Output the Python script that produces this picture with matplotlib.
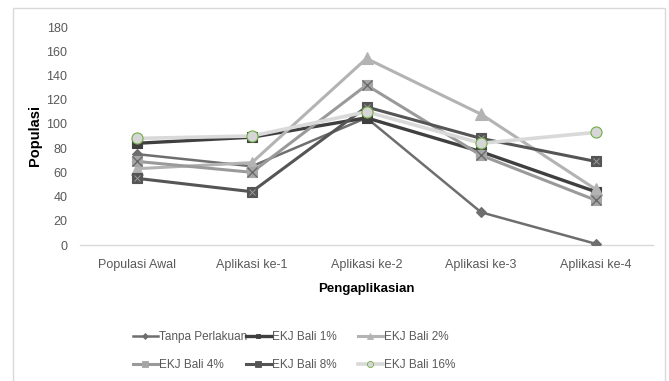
import matplotlib
matplotlib.use("Agg")
import matplotlib.pyplot as plt
from matplotlib.patches import Rectangle
from matplotlib.lines import Line2D

categories = ["Populasi Awal", "Aplikasi ke-1", "Aplikasi ke-2", "Aplikasi ke-3", "Aplikasi ke-4"]
series_names = ["Tanpa Perlakuan", "EKJ Bali 1%", "EKJ Bali 2%", "EKJ Bali 4%", "EKJ Bali 8%", "EKJ Bali 16%"]
tanpa = [75, 65, 105, 27, 1]
ekj1 = [84, 89, 105, 77, 44]
ekj2 = [63, 68, 154, 108, 46]
ekj4 = [69, 60, 132, 74, 37]
ekj8 = [55, 44, 114, 88, 69]
ekj16 = [88, 90, 110, 84, 93]
yticks = [0, 20, 40, 60, 80, 100, 120, 140, 160, 180]

W, H = 669, 381
fig = plt.figure(figsize=(W / 100, H / 100), dpi=100)
plt.rcParams["font.family"] = ["Liberation Sans", "DejaVu Sans"]

# outer chart-area frame
fig.patches.append(Rectangle((12.5 / W, -0.01), (665 - 12.5) / W, 1 - 8 / H + 0.01,
                             transform=fig.transFigure, fill=False,
                             edgecolor="#d9d9d9", linewidth=1.0))

ax = fig.add_axes([80 / W, 1 - 245 / H, (653 - 80) / W, (245 - 27) / H])
x = list(range(len(categories)))

styles = [
    dict(data=tanpa, color="#6e6e6e", lw=1.8, marker="D", ms=5.5, mfc="#6e6e6e", mec="#6e6e6e"),
    dict(data=ekj1, color="#3f3f3f", lw=2.4, marker="s", ms=6.5, mfc="#3f3f3f", mec="#3f3f3f"),
    dict(data=ekj2, color="#b3b3b3", lw=2.2, marker="^", ms=8, mfc="#b3b3b3", mec="#b3b3b3"),
    dict(data=ekj4, color="#9a9a9a", lw=2.2, marker="s", ms=7.5, mfc="#a6a6a6", mec="#a6a6a6"),
    dict(data=ekj8, color="#555555", lw=2.2, marker="s", ms=7.5, mfc="#555555", mec="#555555"),
    dict(data=ekj16, color="#d9d9d9", lw=2.6, marker="o", ms=8, mfc="#d6d6d6", mec="#70ad47"),
]

handles = []
for name, st in zip(series_names, styles):
    ax.plot(x, st["data"], color=st["color"], lw=st["lw"], marker=st["marker"],
            ms=st["ms"], mfc=st["mfc"], mec=st["mec"], mew=0.8, solid_joinstyle="miter",
            zorder=3)
    if name == "EKJ Bali 4%":
        ax.plot(x, st["data"], ls="none", marker="x", ms=7, mec="#6a6a6a", mew=1.0, zorder=3)
    if name == "EKJ Bali 8%":
        ax.plot(x, st["data"], ls="none", marker="x", ms=5, mec="#9a9a9a", mew=0.7, zorder=3)
    handles.append(Line2D([], [], color=st["color"], lw=st["lw"], marker=st["marker"],
                          ms=st["ms"] * 0.55, mfc=st["mfc"], mec=st["mec"], mew=0.6,
                          label=name))

ax.set_xlim(-0.5, len(categories) - 0.5)
ax.set_ylim(0, 180)
ax.set_yticks(yticks)
ax.set_xticks(x)
ax.set_xticklabels(categories)
for s in ["top", "right", "left"]:
    ax.spines[s].set_visible(False)
ax.spines["bottom"].set_color("#d9d9d9")
ax.spines["bottom"].set_linewidth(1.0)
ax.tick_params(axis="both", length=0, colors="#595959", labelsize=9)
ax.tick_params(axis="x", pad=10)
ax.tick_params(axis="y", pad=9)

ax.set_ylabel("Populasi", fontsize=10.5, fontweight="bold", color="black", labelpad=3)
ax.set_xlabel("Pengaplikasian", fontsize=9.5, fontweight="bold", color="black", labelpad=9)

# legend arranged in three fixed columns
col_x = [133, 246, 358]
pairs = [(0, 3), (1, 4), (2, 5)]
for cx, (a, b) in zip(col_x, pairs):
    fig.legend(handles=[handles[a], handles[b]], loc="center left",
               bbox_to_anchor=(cx / W, 1 - 351 / H), frameon=False,
               fontsize=8.5, handlelength=2.1, handletextpad=0.1,
               borderpad=0, borderaxespad=0, labelspacing=1.35,
               labelcolor="#595959")

fig.savefig("out.png", dpi=100)
